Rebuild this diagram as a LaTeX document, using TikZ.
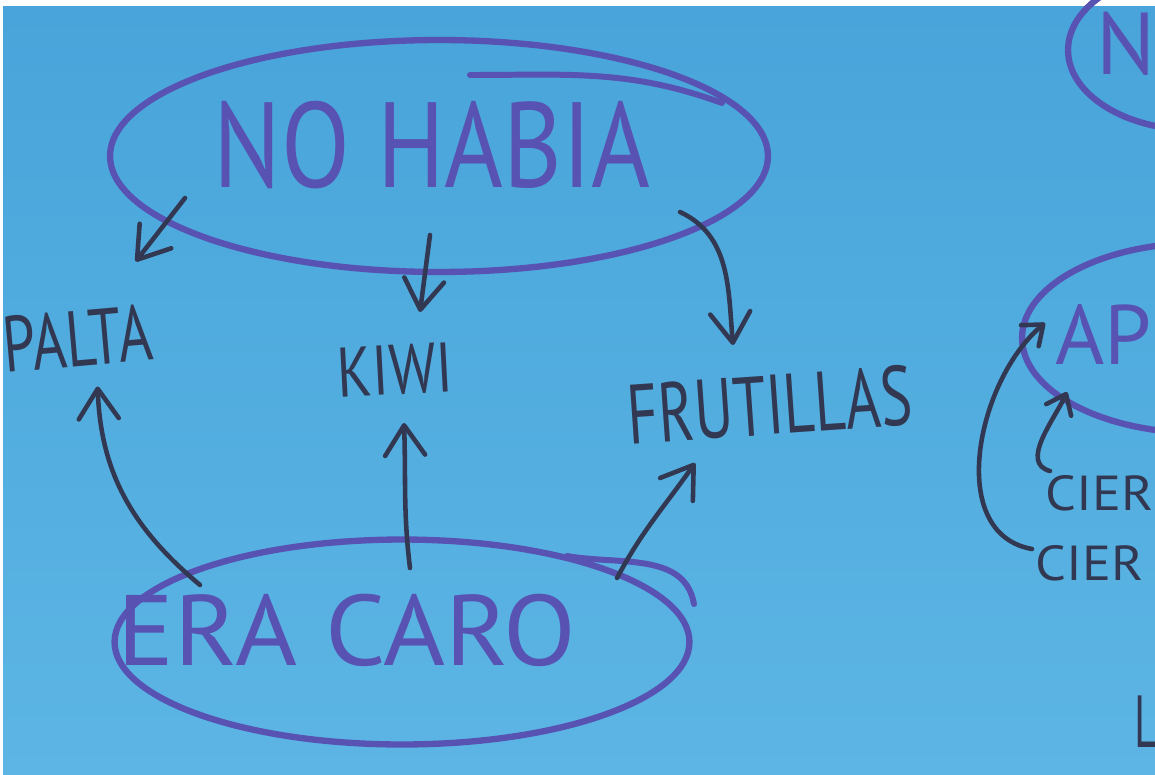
\documentclass[tikz,border=0pt]{standalone}
\usepackage{fontspec}
\setmainfont{PT Sans}
\usepackage{graphicx}
\usetikzlibrary{shapes.geometric,arrows.meta}

\definecolor{papertop}{RGB}{72,164,218}
\definecolor{paperbot}{RGB}{92,181,228}
\definecolor{marker}{RGB}{88,82,178}
\definecolor{pen}{RGB}{50,56,82}
\newcommand{\handsize}[1]{\fontsize{#1}{#1}\selectfont}

\begin{document}
\begin{tikzpicture}[x=0.02cm, y=-0.02cm,
  ring/.style={draw=marker, line width=3.6pt, ellipse, inner sep=0pt},
  overstroke/.style={draw=marker, line width=3.4pt, line cap=round},
  markerword/.style={text=marker, inner sep=0pt},
  penword/.style={text=pen, inner sep=0pt},
  arr/.style={draw=pen, line width=2.6pt, line cap=round, -{Straight Barb[length=0.6cm,width=0.8cm,round]}},
  arrsmall/.style={arr, -{Straight Barb[length=0.35cm,width=0.55cm,round]}}]
\useasboundingbox (0,0) rectangle (1155,774);
\clip (0,0) rectangle (1155,774);
\fill[white] (0,0) rectangle (1155,774);
\fill[top color=papertop, bottom color=paperbot] (3,6) rectangle (1155,774);

% rings
\node[ring, minimum width=13.16cm, minimum height=4.64cm] (habia) at (439,156) {};
\node[ring, minimum width=11.5cm, minimum height=4.1cm] (caro) at (402,642) {};
\node[ring, minimum width=5.08cm, minimum height=3.2cm] (nring) at (1195,50) {};
\node[ring, minimum width=7.12cm, minimum height=3.8cm] (aprring) at (1200,338) {};
\draw[overstroke] ([shift={(31,-81)}]habia.center) to[out=0,in=160] ([shift={(283,-53)}]habia.center);
\draw[overstroke] ([shift={(165,-86)}]caro.center) to[out=-10,in=100] ([shift={(292,-38)}]caro.center);

% words
\node[markerword, font=\handsize{69}] (habiatxt) at (432,145) {\scalebox{0.83}[1]{NO HABIA}};
\node[markerword, font=\handsize{57}] (carotxt) at (347,630) {\scalebox{1.06}[1]{ERA CARO}};
\node[markerword, font=\handsize{50}] (ntxt) at (1126,44) {N};
\node[markerword, font=\handsize{48}, anchor=west] (aprtxt) at (1055,335) {AP};
\node[penword, font=\handsize{45}, rotate=5, anchor=west] (palta) at (3,345) {\scalebox{0.74}[1]{PALTA}};
\node[penword, font=\handsize{40}, rotate=3] (kiwi) at (395,370) {\scalebox{0.81}[1]{KIWI}};
\node[penword, font=\handsize{48}, rotate=4] (frutillas) at (770,405) {\scalebox{0.71}[1]{FRUTILLAS}};
\node[penword, font=\handsize{28}, anchor=west] (ciera) at (1045,493) {\scalebox{1.1}[1]{CIER}};
\node[penword, font=\handsize{28}, anchor=west] (cierb) at (1035,563) {\scalebox{1.1}[1]{CIER}};
\node[penword, font=\handsize{42}, anchor=west] (ltxt) at (1134,722) {\scalebox{0.6}[1]{L}};

% arrows
\draw[arr] ([shift={(-254,42)}]habia.center) -- ([shift={(58,-77)}]palta.center);
\draw[arr] ([shift={(-9,79)}]habia.center) -- ([shift={(25,-58)}]kiwi.center);
\draw[arr] ([shift={(241,56)}]habia.center) to[out=-25,in=95] ([shift={(-37,-60)}]frutillas.center);
\draw[arr] ([shift={(-202,-57)}]caro.center) to[out=140,in=-88] ([shift={(20,48)}]palta.center);
\draw[arr] ([shift={(8,-74)}]caro.center) to[out=97,in=-88] ([shift={(9,53)}]kiwi.center);
\draw[arr] ([shift={(215,-64)}]caro.center) to[out=62,in=-125] ([shift={(-75,58)}]frutillas.center);
\draw[arrsmall] ([shift={(-3,-14)}]cierb.west) to[out=170,in=-140,looseness=1.0] ([shift={(-155,-15)}]aprring.center);
\draw[arrsmall] ([shift={(5,-22)}]ciera.west) to[out=165,in=-115] ([shift={(-133,54)}]aprring.center);
\end{tikzpicture}
\end{document}
